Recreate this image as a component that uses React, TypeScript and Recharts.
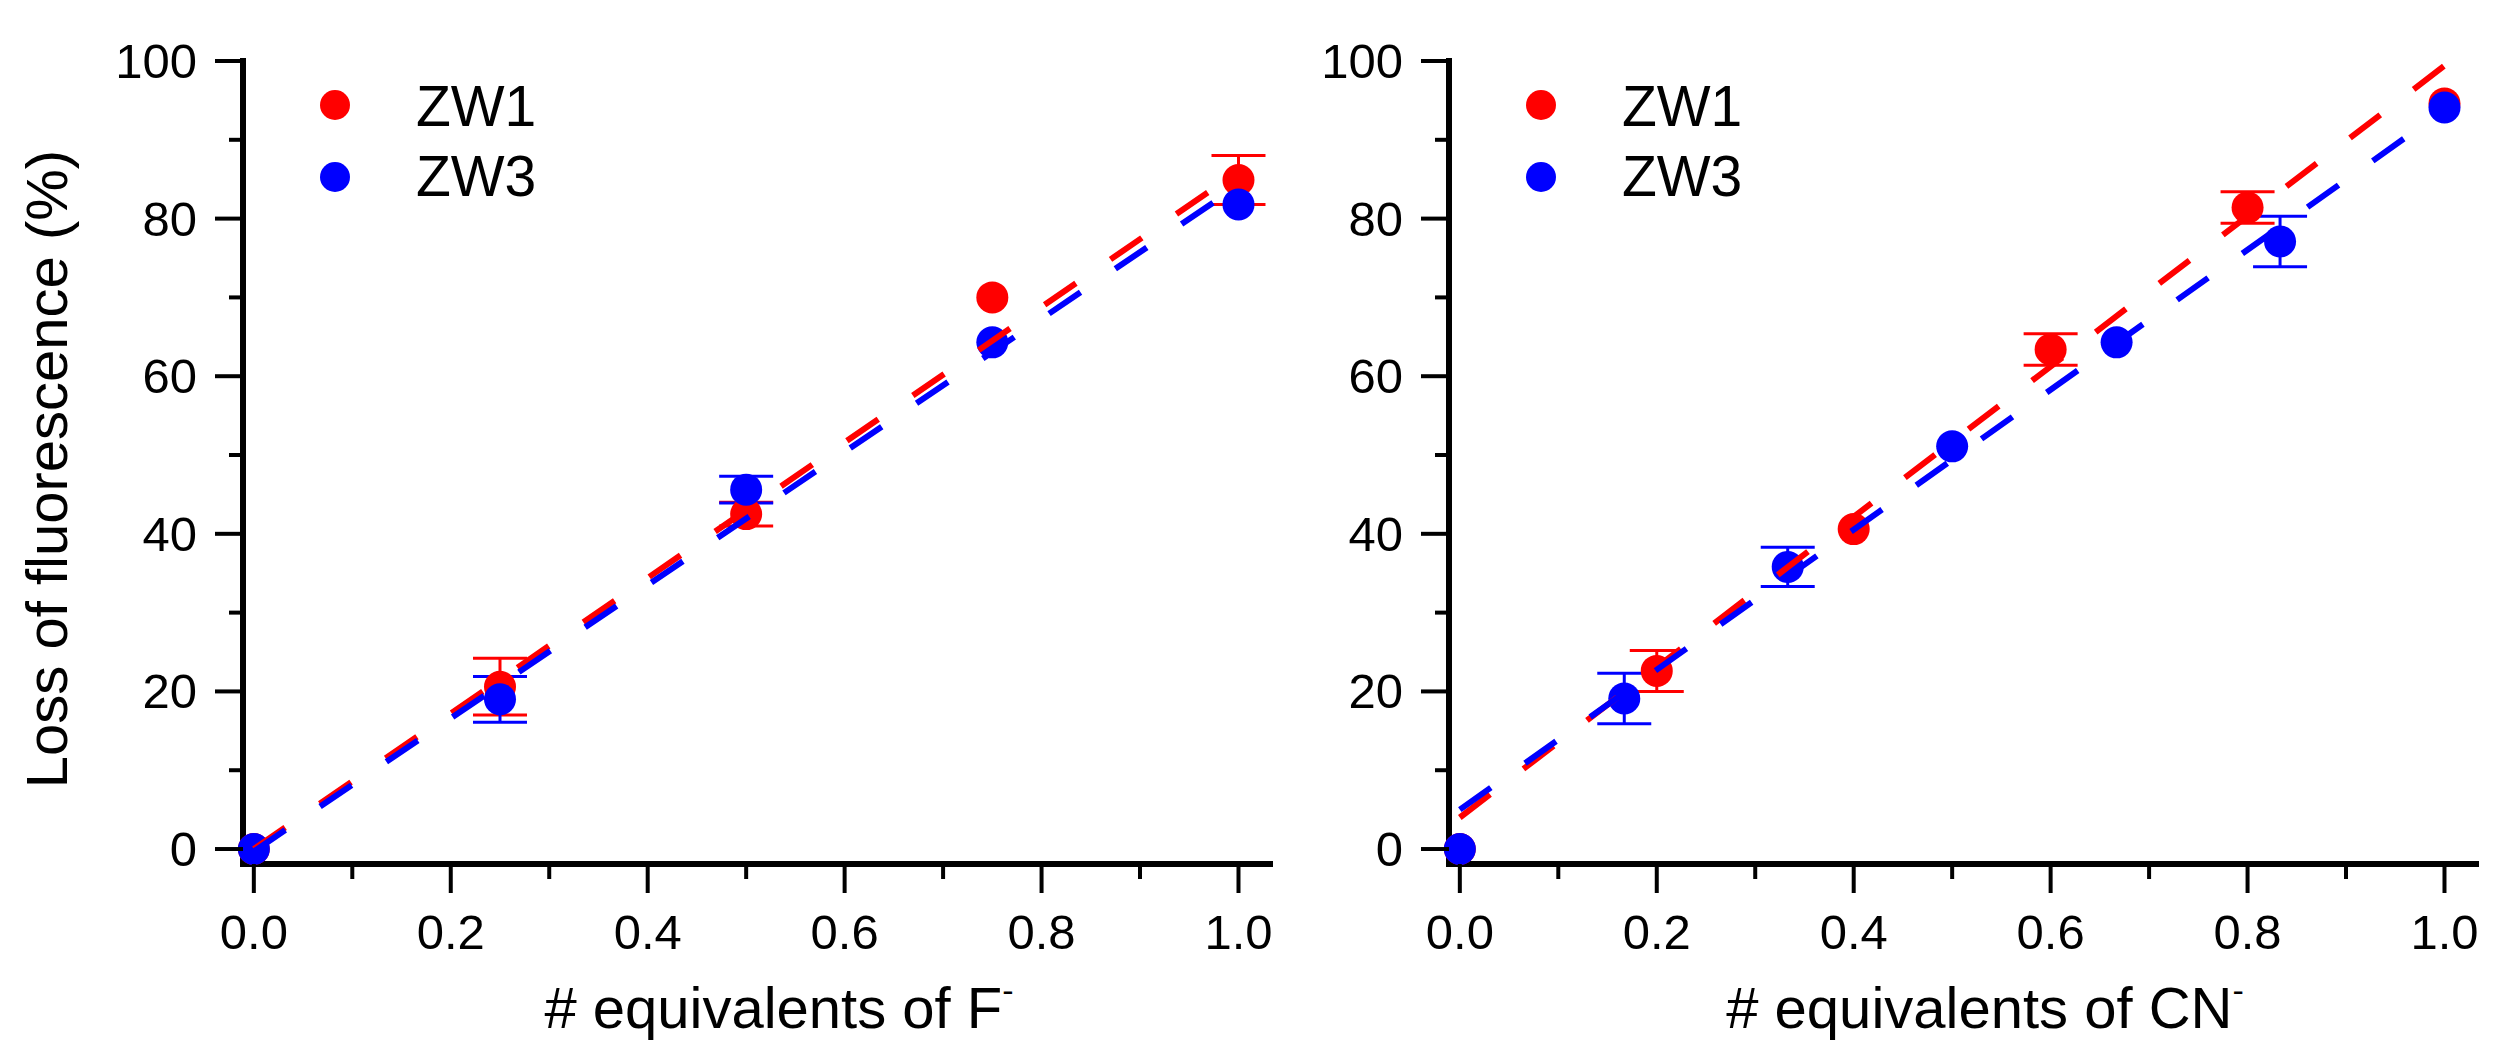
import React from "react";
import { ScatterChart, Scatter, XAxis, YAxis, ErrorBar, Label } from "recharts";

const FONT = "Arial, 'Liberation Sans', Helvetica, sans-serif";
const RED = "#ff0000";
const BLUE = "#0000ff";

// left panel: titration with F-
// (errors smaller than the marker are hidden in the original, so they are left at 0)
const fX = [0, 0.25, 0.5, 0.75, 1.0];
const fZW1 = [0, 20.6, 42.5, 70.0, 84.9];
const fZW1Err = [0, 3.6, 1.5, 0, 3.1];
const fZW3 = [0, 19.0, 45.6, 64.3, 81.8];
const fZW3Err = [0, 2.9, 1.7, 0, 0];
const fitX = [0, 1];
const fFitZW1 = [0, 86.0];
const fFitZW3 = [-0.3, 84.2];

// right panel: titration with CN-
const cnX1 = [0, 0.2, 0.4, 0.6, 0.8, 1.0];
const cnZW1 = [0, 22.6, 40.6, 63.4, 81.4, 94.6];
const cnZW1Err = [0, 2.6, 0, 2.0, 2.0, 0];
const cnX3 = [0, 0.167, 0.333, 0.5, 0.667, 0.833, 1.0];
const cnZW3 = [0, 19.1, 35.8, 51.1, 64.3, 77.1, 94.1];
const cnZW3Err = [0, 3.2, 2.5, 0, 0, 3.2, 0];
const cnFitZW1 = [4.0, 99.4];
const cnFitZW3 = [5.0, 93.8];

const yTicks = [0, 10, 20, 30, 40, 50, 60, 70, 80, 90, 100];
const xTicks = [0, 0.1, 0.2, 0.3, 0.4, 0.5, 0.6, 0.7, 0.8, 0.9, 1.0];
const seriesNames = ["ZW1", "ZW3"];

const toPoints = (xs: number[], ys: number[], errs?: number[]) =>
  xs.map((x, i) => ({ x, y: ys[i], err: errs ? errs[i] : 0 }));

const YTick = (props: any) => {
  const { x, y, payload } = props;
  const major = payload.value % 20 === 0;
  return (
    <g>
      <line x1={x - (major ? 28 : 14)} x2={x} y1={y} y2={y} stroke="#000" strokeWidth={4} />
      {major && (
        <text x={x - 46} y={y + 17} textAnchor="end" fontSize={49} fontFamily={FONT} fill="#000">
          {payload.value}
        </text>
      )}
    </g>
  );
};

const XTick = (props: any) => {
  const { x, y, payload } = props;
  const major = Math.round(payload.value * 10) % 2 === 0;
  return (
    <g>
      <line x1={x} x2={x} y1={y} y2={y + (major ? 29 : 15)} stroke="#000" strokeWidth={4} />
      {major && (
        <text x={x} y={y + 85} textAnchor="middle" fontSize={49} fontFamily={FONT} fill="#000">
          {payload.value.toFixed(1)}
        </text>
      )}
    </g>
  );
};

const dot = (color: string) => (p: any) => <circle cx={p.cx} cy={p.cy} r={16} fill={color} />;
const noDot = () => <g />;

const Panel = ({ left, xAnion, zw1, zw3, fit1, fit3, yTitle }: any) => (
  <div style={{ position: "absolute", left, top: 0, width: 1290, height: 1056 }}>
    <ScatterChart width={1290} height={1056} margin={{ top: 61, right: 20, bottom: 0, left: 0 }}>
      <XAxis
        type="number"
        dataKey="x"
        domain={[-0.011, 1.032]}
        ticks={xTicks}
        interval={0}
        height={192}
        tickSize={0}
        tickMargin={0}
        tickLine={false}
        tick={<XTick />}
        axisLine={{ stroke: "#000", strokeWidth: 6, strokeLinecap: "square" }}
      >
        <Label
          content={(p: any) => (
            <text
              x={p.viewBox.x + 536}
              y={p.viewBox.y + 164}
              textAnchor="middle"
              fontSize={58}
              fontFamily={FONT}
              fill="#000"
            >
              # equivalents of {xAnion}
              <tspan fontSize={34} dy={-26}>-</tspan>
            </text>
          )}
        />
      </XAxis>
      <YAxis
        type="number"
        dataKey="y"
        domain={[-1.9, 100]}
        ticks={yTicks}
        interval={0}
        width={243}
        tickSize={0}
        tickMargin={0}
        tickLine={false}
        tick={<YTick />}
        axisLine={{ stroke: "#000", strokeWidth: 6, strokeLinecap: "square" }}
      >
        {yTitle && (
          <Label
            content={(p: any) => {
              const tx = p.viewBox.x + 67;
              const ty = p.viewBox.y + 408;
              return (
                <text
                  x={tx}
                  y={ty}
                  transform={`rotate(-90 ${tx} ${ty})`}
                  textAnchor="middle"
                  fontSize={58}
                  fontFamily={FONT}
                  fill="#000"
                >
                  Loss of fluorescence (%)
                </text>
              );
            }}
          />
        )}
      </YAxis>
      <Scatter data={zw1} fill={RED} shape={dot(RED)} isAnimationActive={false}>
        <ErrorBar dataKey="err" direction="y" width={27} strokeWidth={3} stroke={RED} />
      </Scatter>
      <Scatter data={zw3} fill={BLUE} shape={dot(BLUE)} isAnimationActive={false}>
        <ErrorBar dataKey="err" direction="y" width={27} strokeWidth={3} stroke={BLUE} />
      </Scatter>
      <Scatter
        data={fit1}
        fill={RED}
        shape={noDot}
        line={{ stroke: RED, strokeWidth: 6, strokeDasharray: "38 42" }}
        isAnimationActive={false}
      />
      <Scatter
        data={fit3}
        fill={BLUE}
        shape={noDot}
        line={{ stroke: BLUE, strokeWidth: 6, strokeDasharray: "38 42" }}
        isAnimationActive={false}
      />
    </ScatterChart>
    <svg style={{ position: "absolute", left: 300, top: 70 }} width={300} height={150}>
      <circle cx={35} cy={35} r={15} fill={RED} />
      <circle cx={35} cy={107} r={15} fill={BLUE} />
      <text x={116} y={56} fontSize={57} fontFamily={FONT} fill="#000">{seriesNames[0]}</text>
      <text x={116} y={126} fontSize={57} fontFamily={FONT} fill="#000">{seriesNames[1]}</text>
    </svg>
  </div>
);

export default function App() {
  return (
    <div style={{ position: "absolute", left: 0, top: 0, width: 2505, height: 1056, background: "#fff", overflow: "hidden" }}>
      <style>{`body{margin:0;overflow:hidden;}`}</style>
      <Panel
        left={0}
        xAnion="F"
        zw1={toPoints(fX, fZW1, fZW1Err)}
        zw3={toPoints(fX, fZW3, fZW3Err)}
        fit1={toPoints(fitX, fFitZW1)}
        fit3={toPoints(fitX, fFitZW3)}
        yTitle
      />
      <Panel
        left={1206}
        xAnion="CN"
        zw1={toPoints(cnX1, cnZW1, cnZW1Err)}
        zw3={toPoints(cnX3, cnZW3, cnZW3Err)}
        fit1={toPoints(fitX, cnFitZW1)}
        fit3={toPoints(fitX, cnFitZW3)}
      />
    </div>
  );
}
